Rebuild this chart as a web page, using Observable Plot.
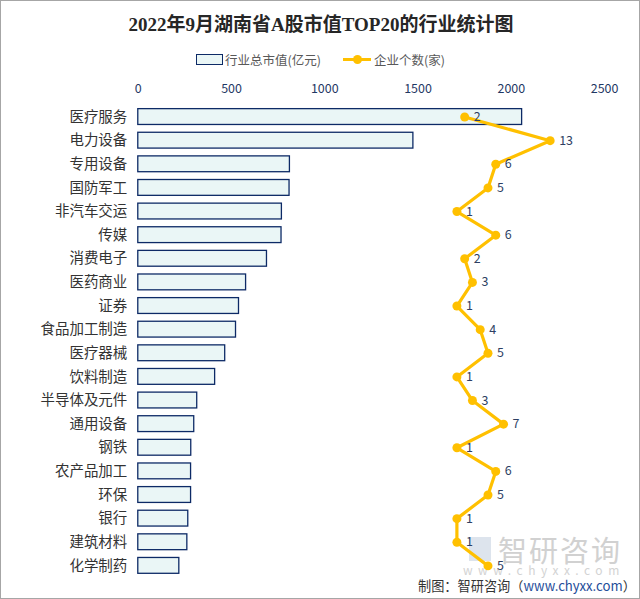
<!DOCTYPE html>
<html><head><meta charset="utf-8">
<script src="https://cdn.jsdelivr.net/npm/d3@7"></script>
<script src="https://cdn.jsdelivr.net/npm/@observablehq/plot@0.6"></script>
<style>
body{margin:0;background:#fff;}
#wrap{position:relative;width:638px;height:597px;border:1px solid #a6a6a6;overflow:hidden;font-family:"Noto Sans CJK SC","Noto Sans",sans-serif;}
#chart{position:absolute;left:-1px;top:-1px;}
#title{position:absolute;left:0;width:640px;top:8px;text-align:center;font-family:"Liberation Serif","Noto Sans CJK SC",serif;font-weight:bold;font-size:19px;color:#262626;white-space:nowrap;}
#legend{position:absolute;top:49px;left:195px;font-size:12.5px;color:#595959;display:flex;align-items:center;white-space:nowrap;}
.sw{display:inline-block;width:25px;height:9px;background:#eaf6f6;border:1px solid #0d2a66;margin-right:2px;}
.lsw{position:relative;display:inline-block;width:28px;height:3px;background:#ffc000;margin-left:22px;margin-right:3px;}
.lsw:after{content:"";position:absolute;left:10px;top:-3px;width:9px;height:9px;border-radius:50%;background:#ffc000;}
#wm1{position:absolute;left:497px;top:527px;font-size:29px;color:#c9c9c9;letter-spacing:2px;opacity:0.85;white-space:nowrap;}
#wm2{position:absolute;left:462px;top:560px;font-size:12px;color:#d3d3d3;letter-spacing:5.5px;white-space:nowrap;}
#logo{position:absolute;left:468px;top:536px;width:22px;height:24px;background:#cfd8e6;opacity:0.7;}
#cap{position:absolute;left:417px;top:575px;font-size:13.2px;color:#333;white-space:nowrap;}
#cap span{color:#1f4e9a;}
</style></head>
<body>
<div id="wrap">
<div id="logo"></div>
<div id="wm1">智研咨询</div>
<div id="wm2">www.chyxx.com</div>
<div id="chart"></div>
<div id="title">2022年9月湖南省A股市值TOP20的行业统计图</div>
<div id="legend"><span class="sw"></span>行业总市值(亿元)<span class="lsw"></span>企业个数(家)</div>
<div id="cap">制图：智研咨询（<span>www.chyxx.com</span>）</div>
</div>
<script>
const industries = ["医疗服务","电力设备","专用设备","国防军工","非汽车交运","传媒","消费电子","医药商业","证券","食品加工制造","医疗器械","饮料制造","半导体及元件","通用设备","钢铁","农产品加工","环保","银行","建筑材料","化学制药"];
const marketValue = [2058,1475,813,811,770,768,690,578,540,524,466,412,316,300,284,283,283,268,263,220];
const companyCount = [2,13,6,5,1,6,2,3,1,4,5,1,3,7,1,6,5,1,1,5];
const xTicks = [0,500,1000,1500,2000,2500];
const countAxisDomain = [-40,20];

const data = industries.map((name,i)=>({name, value: marketValue[i], count: companyCount[i]}));
// secondary (hidden) axis for counts mapped onto primary value axis
const toPrimary = c => (c - countAxisDomain[0]) / (countAxisDomain[1]-countAxisDomain[0]) * xTicks[xTicks.length-1];

const chart = Plot.plot({
  width: 640,
  height: 599,
  marginLeft: 138,
  marginRight: 35,
  marginTop: 101,
  marginBottom: 17,
  style: {fontFamily: '"Noto Sans CJK SC","Noto Sans",sans-serif', background: "transparent"},
  x: {domain: [0,2500], axis: null, label: null},
  y: {domain: industries, padding: 0.33, round: false, axis: null, label: null},
  marks: [
    Plot.barX(data, {y: "name", x: "value", fill: "#eaf6f6", stroke: "#0d2a66", strokeWidth: 1.3}),
    Plot.axisX(xTicks, {anchor: "top", tickSize: 0, tickPadding: 8, fontSize: 12.5, fill: "#1f3864", tickFormat: d=>String(d), label: null}),
    Plot.axisY({anchor: "left", tickSize: 0, tickPadding: 11, fontSize: 14.5, fill: "#333", label: null}),
    Plot.line(data, {y: "name", x: d=>toPrimary(d.count), stroke: "#ffc000", strokeWidth: 3.2, curve: "linear"}),
    Plot.dot(data, {y: "name", x: d=>toPrimary(d.count), r: 4.5, fill: "#ffc000"}),
    Plot.text(data, {y: "name", x: d=>toPrimary(d.count), text: d=>String(d.count), textAnchor: "start", dx: 9, fontSize: 12.5, fill: "#2e3f63"})
  ]
});
document.getElementById("chart").appendChild(chart);
</script>
</body></html>
